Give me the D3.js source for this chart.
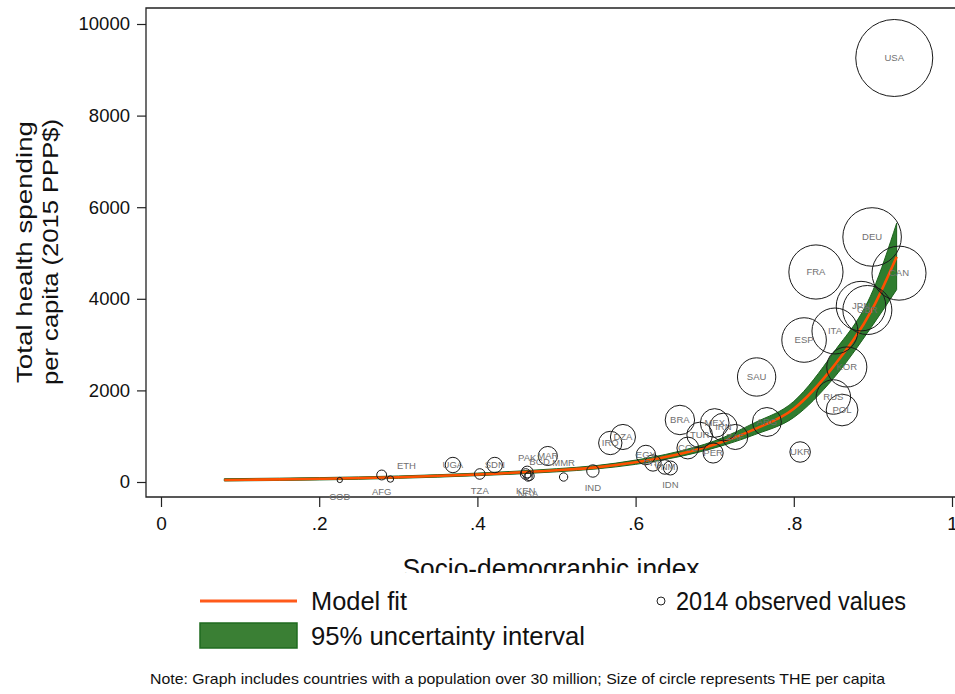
<!DOCTYPE html>
<html>
<head>
<meta charset="utf-8">
<script src="https://cdn.jsdelivr.net/npm/d3@7"></script>
<style>
  body { margin: 0; background: #fff; }
  svg { display: block; font-family: "Liberation Sans", Arial, sans-serif; }
</style>
</head>
<body>
<svg id="chart" width="955" height="694"></svg>
<script>
// model fit + 95% UI
const fitSdi = [0.08, 0.15, 0.2, 0.3, 0.4, 0.5, 0.55, 0.6, 0.65, 0.7, 0.75, 0.8, 0.85, 0.9, 0.93];
const fitThe = [45, 58, 70, 105, 165, 255, 320, 430, 590, 820, 1150, 1600, 2520, 3800, 4920];
const fitLower = [22, 34, 45, 80, 138, 222, 285, 385, 535, 745, 1030, 1410, 2260, 3430, 4200];
const fitUpper = [72, 84, 96, 132, 194, 290, 358, 478, 650, 898, 1290, 1760, 2820, 4180, 5650];

// 2014 observed values
const countries = ["USA", "DEU", "CAN", "FRA", "JPN", "GBR", "ITA", "ESP", "KOR", "SAU", "RUS", "POL",
  "ARG", "UKR", "BRA", "TUR", "COL", "MEX", "IRN", "ZAF", "PER", "IRQ", "DZA", "EGY", "PHL", "VNM",
  "IDN", "IND", "MMR", "MAR", "PAK", "BGD", "KEN", "NGA", "SDN", "TZA", "UGA", "ETH", "AFG", "COD"];
const sdi = [0.927, 0.899, 0.933, 0.828, 0.885, 0.893, 0.852, 0.813, 0.867, 0.753, 0.850, 0.861,
  0.766, 0.808, 0.656, 0.681, 0.666, 0.700, 0.711, 0.726, 0.698, 0.568, 0.584, 0.613, 0.622, 0.637,
  0.644, 0.546, 0.509, 0.489, 0.463, 0.466, 0.461, 0.464, 0.422, 0.403, 0.369, 0.290, 0.279, 0.226];
const the = [9258, 5350, 4560, 4585, 3840, 3755, 3297, 3100, 2511, 2293, 1856, 1572,
  1310, 655, 1354, 1026, 742, 1288, 1200, 983, 633, 852, 983, 590, 415, 328,
  306, 240, 109, 568, 218, 131, 175, 109, 371, 175, 371, 65, 153, 44];
// stata style mlabvpos: 0 = centred, 12 = above, 6 = below, 1/2 = upper right
const labelClock = [0, 0, 0, 0, 0, 0, 0, 0, 0, 0, 0, 0,
  0, 0, 0, 0, 0, 0, 0, 0, 0, 0, 0, 0, 0, 0,
  6, 6, 12, 0, 12, 1, 6, 6, 0, 6, 0, 2, 6, 6];

const xTicks = [0, 0.2, 0.4, 0.6, 0.8, 1];
const yTicks = [0, 2000, 4000, 6000, 8000, 10000];

const frame = { left: 146, top: 8, bottom: 497, right: 960 };

const svg = d3.select("#chart");

const x = d3.scaleLinear().domain([0, 1]).range([161, 952]);
const y = d3.scaleLinear().domain([0, 10000]).range([482, 24]);
const r = d3.scaleSqrt().domain([0, d3.max(the)]).range([0, 38.5]);

const clockOffset = { 0: [0, 0], 12: [0, -14], 6: [0, 17], 1: [10, -14], 2: [16, -13] };

// frame lines
svg.append("path")
  .attr("d", `M${frame.right},${frame.top}H${frame.left}V${frame.bottom}H${frame.right}`)
  .attr("fill", "none")
  .attr("stroke", "#222")
  .attr("stroke-width", 1.3);

// y axis
const gy = svg.append("g")
  .attr("transform", `translate(${frame.left},0)`)
  .call(d3.axisLeft(y).tickValues(yTicks).tickSize(9).tickSizeOuter(0).tickPadding(7).tickFormat(d3.format("d")));
gy.select(".domain").remove();
gy.selectAll("line").attr("stroke", "#222").attr("stroke-width", 1.2);
gy.selectAll("text").attr("font-size", 18.5).attr("fill", "#111")
  .attr("font-family", "Liberation Sans, Arial, sans-serif");

// x axis
const gx = svg.append("g")
  .attr("transform", `translate(0,${frame.bottom})`)
  .call(d3.axisBottom(x).tickValues(xTicks).tickSize(10).tickSizeOuter(0).tickPadding(10)
    .tickFormat(d => d === 0 || d === 1 ? String(d) : String(d).replace("0.", ".")));
gx.select(".domain").remove();
gx.selectAll("line").attr("stroke", "#222").attr("stroke-width", 1.2);
gx.selectAll("text").attr("font-size", 19).attr("fill", "#111")
  .attr("font-family", "Liberation Sans, Arial, sans-serif");

// axis titles
svg.append("g")
  .attr("transform", "translate(32,252) rotate(-90)")
  .selectAll("text")
  .data(["Total health spending", "per capita (2015 PPP$)"])
  .join("text")
  .attr("x", 0)
  .attr("y", (d, i) => i * 26)
  .attr("text-anchor", "middle")
  .attr("font-size", 21.5)
  .attr("textLength", (d, i) => i ? 266 : 262)
  .attr("lengthAdjust", "spacingAndGlyphs")
  .attr("fill", "#111")
  .text(d => d);

svg.append("clipPath").attr("id", "xtitle-clip")
  .append("rect").attr("x", 0).attr("y", 540).attr("width", 955).attr("height", 33);
svg.append("text")
  .attr("clip-path", "url(#xtitle-clip)")
  .attr("x", 551)
  .attr("y", 578)
  .attr("text-anchor", "middle")
  .attr("font-size", 28)
  .attr("textLength", 297)
  .attr("lengthAdjust", "spacingAndGlyphs")
  .attr("fill", "#111")
  .text("Socio-demographic index");

// 95% UI band
const fitRows = fitSdi.map((s, i) => ({ s, fit: fitThe[i], lo: fitLower[i], hi: fitUpper[i] }));
svg.append("path")
  .datum(fitRows)
  .attr("d", d3.area().x(d => x(d.s)).y0(d => y(d.lo)).y1(d => y(d.hi)).curve(d3.curveMonotoneX))
  .attr("fill", "#2f7d2f")
  .attr("stroke", "#1d611d")
  .attr("stroke-width", 1);

// model fit
svg.append("path")
  .datum(fitRows)
  .attr("d", d3.line().x(d => x(d.s)).y(d => y(d.fit)).curve(d3.curveMonotoneX))
  .attr("fill", "none")
  .attr("stroke", "#ff5000")
  .attr("stroke-width", 2.6);

// observed circles
const obs = countries.map((c, i) => ({ c, s: sdi[i], v: the[i], pos: labelClock[i] }));
svg.append("g")
  .selectAll("circle")
  .data(obs)
  .join("circle")
  .attr("cx", d => x(d.s))
  .attr("cy", d => y(d.v))
  .attr("r", d => r(d.v))
  .attr("fill", "none")
  .attr("stroke", "#1a1a1a")
  .attr("stroke-width", 1);

svg.append("g")
  .selectAll("text")
  .data(obs)
  .join("text")
  .attr("x", d => x(d.s) + clockOffset[d.pos][0])
  .attr("y", d => y(d.v) + clockOffset[d.pos][1])
  .attr("dy", "0.35em")
  .attr("text-anchor", "middle")
  .attr("font-size", 9.5)
  .attr("fill", "#707070")
  .text(d => d.c);

// legend
const legend = svg.append("g");
legend.append("line")
  .attr("x1", 200).attr("x2", 297).attr("y1", 601).attr("y2", 601)
  .attr("stroke", "#ff5a1a").attr("stroke-width", 3);
legend.append("rect")
  .attr("x", 200).attr("y", 623).attr("width", 97).attr("height", 25)
  .attr("fill", "#3a7f34").attr("stroke", "#1f6b1f").attr("stroke-width", 1.5);
legend.append("circle")
  .attr("cx", 661).attr("cy", 601).attr("r", 4)
  .attr("fill", "none").attr("stroke", "#222").attr("stroke-width", 1);
const legendText = [
  { t: "Model fit", x: 311, y: 601, w: 96 },
  { t: "95% uncertainty interval", x: 311, y: 636, w: 274 },
  { t: "2014 observed values", x: 676, y: 601, w: 230 }
];
legend.selectAll("text.leg")
  .data(legendText)
  .join("text")
  .attr("class", "leg")
  .attr("x", d => d.x)
  .attr("y", d => d.y)
  .attr("dy", "0.36em")
  .attr("font-size", 26)
  .attr("textLength", d => d.w)
  .attr("lengthAdjust", "spacingAndGlyphs")
  .attr("fill", "#111")
  .text(d => d.t);

svg.append("text")
  .attr("x", 150)
  .attr("y", 679)
  .attr("dy", "0.36em")
  .attr("font-size", 15)
  .attr("textLength", 735)
  .attr("lengthAdjust", "spacingAndGlyphs")
  .attr("fill", "#111")
  .text("Note: Graph includes countries with a population over 30 million; Size of circle represents THE per capita");
</script>
</body>
</html>
